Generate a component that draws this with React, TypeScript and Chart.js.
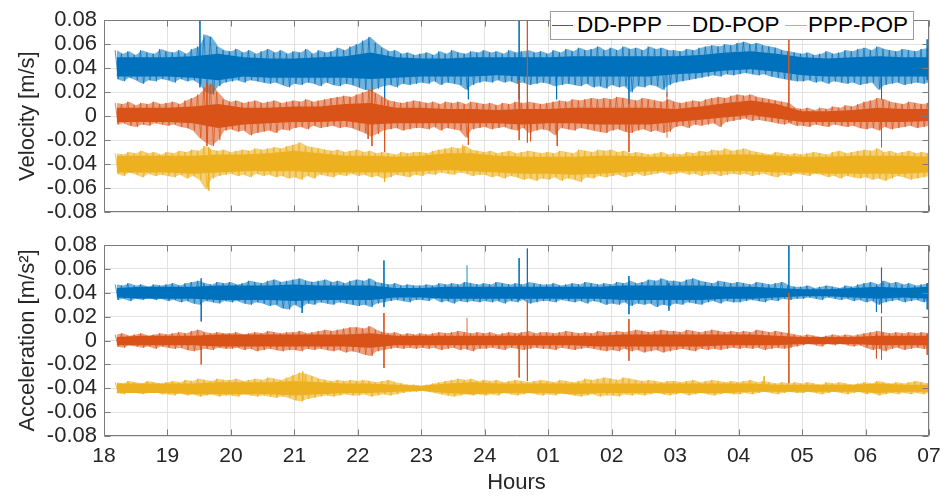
import React, { useEffect, useRef } from 'react';
import { Chart, registerables } from 'chart.js';

Chart.register(...registerables);

// ---------- axis data ----------
const HOUR_TICKS = [18, 19, 20, 21, 22, 23, 24, 25, 26, 27, 28, 29, 30, 31];
const HOUR_LABELS = ['18', '19', '20', '21', '22', '23', '24', '01', '02', '03', '04', '05', '06', '07'];
const Y_TICKS = [-0.08, -0.06, -0.04, -0.02, 0, 0.02, 0.04, 0.06, 0.08];
const Y_LABELS = ['-0.08', '-0.06', '-0.04', '-0.02', '0', '0.02', '0.04', '0.06', '0.08'];
const SERIES_NAMES = ['DD-PPP', 'DD-POP', 'PPP-POP'];

// Envelope samples (values in 1e-3 units), every 0.1 h from 18.2 to 31.0 (07:00)
const SAMPLE_START = 18.2;
const SAMPLE_STEP = 0.1;
// Dense-core samples every 0.4 h from 18.2 to 31.0
const CORE_START = 18.2;
const CORE_STEP = 0.4;

// ---------- Velocity ----------
const VEL_DDPPP_HI = [
  55, 52, 54, 51, 55, 53, 52, 56,
  54, 53, 55, 52, 56, 58, 68, 66, 58, 55,
  54, 56, 53, 55, 52, 54, 56, 53, 55, 52,
  54, 53, 56, 52, 55, 53, 54, 57, 55, 58,
  60, 63, 66, 61, 57, 54, 55, 52, 53, 51,
  52, 53, 51, 54, 52, 55, 53, 52, 54, 53,
  55, 53, 54, 52, 55, 53, 54, 55, 53, 54,
  52, 55, 53, 56, 54, 57, 55, 56, 58, 55,
  57, 55, 58, 56, 57, 55, 58, 56, 57, 55,
  55, 54, 56, 55, 57, 58, 59, 58, 60, 59,
  61, 62, 60, 61, 59, 58, 57, 55, 54, 53,
  52, 53, 51, 52, 54, 52, 53, 55, 54, 56,
  57, 55, 58, 56, 55, 54, 56, 55, 54, 56,
  57,
];
const VEL_DDPPP_LO = [
  31, 29, 32, 30, 27, 30, 29, 31,
  30, 28, 31, 29, 30, 27, 20, 18, 25, 28,
  29, 30, 28, 30, 29, 28, 27, 28, 26, 24,
  27, 26, 28, 27, 25, 28, 26, 25, 27, 26,
  24, 22, 21, 23, 25, 26, 24, 27, 26, 27,
  28, 27, 29, 26, 28, 27, 26, 22, 26, 28,
  29, 28, 30, 28, 29, 27, 28, 26, 27, 28,
  27, 25, 26, 27, 26, 25, 27, 24, 25, 23,
  26, 24, 25, 20, 25, 24, 26, 25, 22, 26,
  28, 29, 30, 31, 32, 33, 34, 33, 35, 34,
  35, 36, 35, 34, 35, 33, 32, 31, 30, 29,
  29, 30, 28, 29, 27, 29, 28, 27, 28, 26,
  27, 28, 22, 26, 27, 28, 26, 27, 28, 27,
  28,
];
const VEL_DDPPP_CORE_HI = [49, 49, 49, 50, 52, 49, 48, 48, 49, 50, 53, 49, 48, 48, 49, 49, 49, 49, 50, 50, 50, 50, 50, 51, 53, 54, 52, 49, 48, 49, 50, 49, 49];
const VEL_DDPPP_CORE_LO = [33, 33, 33, 32, 30, 33, 32, 32, 32, 32, 31, 32, 33, 33, 33, 34, 33, 33, 33, 33, 33, 33, 35, 36, 38, 39, 37, 34, 33, 33, 33, 33, 33];
// isolated spikes: [hour, top, bottom]
const VEL_DDPPP_SPIKES = [
  [19.51, 90, 24], [22.42, 45, 12], [23.74, 45, 14], [24.54, 90, 14], [25.13, 45, 14],
  [26.27, 48, 10], [26.87, 45, 16], [30.25, 50, 14], [30.97, 64, 30],
];

const VEL_DDPOP_HI = [
  11, 10, 12, 9, 11, 10, 12, 10,
  11, 12, 10, 13, 15, 18, 24, 27, 20, 14,
  12, 13, 11, 12, 13, 11, 12, 13, 11, 12,
  13, 12, 14, 12, 13, 14, 15, 16, 17, 16,
  18, 20, 22, 19, 16, 13, 12, 11, 12, 13,
  12, 11, 12, 10, 12, 11, 12, 10, 12, 11,
  10, 11, 9, 11, 10, 12, 11, 12, 11, 10,
  11, 12, 13, 12, 14, 13, 14, 15, 14, 15,
  14, 16, 15, 14, 13, 15, 14, 13, 12, 14,
  12, 11, 12, 13, 12, 14, 15, 16, 15, 17,
  18, 17, 18, 16, 15, 14, 13, 12, 11, 7,
  6, 7, 5, 7, 6, 8, 7, 9, 8, 10,
  12, 13, 15, 14, 12, 11, 10, 12, 11, 10,
  11,
];
const VEL_DDPOP_LO = [
  -7, -6, -8, -9, -7, -8, -6, -7,
  -8, -7, -9, -10, -12, -18, -22, -25, -20, -12,
  -11, -13, -12, -16, -14, -13, -12, -14, -11, -12,
  -10, -9, -11, -8, -10, -9, -8, -10, -9, -10,
  -12, -14, -17, -15, -12, -11, -10, -12, -11, -10,
  -10, -11, -9, -12, -10, -11, -12, -18, -11, -10,
  -9, -11, -10, -9, -11, -12, -10, -14, -12, -11,
  -12, -16, -10, -11, -12, -10, -11, -12, -13, -14,
  -12, -11, -13, -14, -12, -11, -13, -12, -14, -13,
  -9, -8, -10, -7, -8, -7, -6, -9, -5, -4,
  -3, -2, -4, -3, -4, -5, -6, -7, -6, -8,
  -8, -9, -7, -8, -9, -7, -8, -9, -8, -10,
  -11, -10, -12, -9, -11, -10, -9, -8, -10, -9,
  -8,
];
const VEL_DDPOP_CORE_HI = [7, 7, 7, 8, 10, 7, 7, 8, 8, 10, 11, 7, 7, 6, 6, 5, 6, 6, 7, 7, 7, 7, 6, 8, 11, 13, 10, 4, 4, 5, 7, 6, 6];
const VEL_DDPOP_CORE_LO = [-5, -5, -5, -6, -10, -7, -6, -5, -5, -4, -7, -6, -6, -6, -6, -6, -7, -6, -6, -7, -7, -7, -5, -3, -1, 1, -2, -5, -5, -5, -5, -5, -4];
const VEL_DDPOP_SPIKES = [
  [19.62, 28, -25], [22.16, 5, -19], [22.22, 24, -25], [22.42, 15, -30], [23.74, 5, -24],
  [24.54, 30, -20], [24.67, 90, -22], [24.72, 5, -21], [25.14, 5, -25], [26.27, 5, -30],
  [26.87, 20, -18], [28.79, 75, -5], [30.25, 5, -26],
];

const VEL_PPPPOP_HI = [
  -31, -32, -30, -31, -29, -31, -30, -32,
  -30, -31, -29, -30, -28, -29, -25, -28, -29, -28,
  -30, -29, -28, -29, -27, -28, -27, -26, -27, -25,
  -24, -22, -25, -26, -27, -28, -29, -28, -30, -29,
  -28, -30, -29, -31, -30, -31, -32, -30, -31, -30,
  -30, -31, -29, -28, -27, -26, -27, -25, -28, -29,
  -30, -29, -31, -30, -29, -31, -30, -29, -30, -31,
  -30, -31, -29, -30, -31, -28, -29, -30, -28, -29,
  -28, -30, -29, -31, -30, -31, -32, -31, -30, -32,
  -31, -32, -30, -31, -29, -30, -28, -29, -27, -29,
  -28, -27, -29, -30, -31, -32, -30, -31, -32, -31,
  -32, -31, -30, -31, -32, -30, -29, -31, -30, -29,
  -28, -29, -27, -30, -29, -31, -30, -29, -31, -30,
  -31,
];
const VEL_PPPPOP_LO = [
  -48, -50, -47, -49, -51, -48, -50, -49,
  -50, -51, -49, -52, -50, -53, -61, -52, -50, -49,
  -48, -50, -49, -51, -48, -50, -49, -51, -50, -52,
  -51, -53, -50, -52, -49, -50, -51, -49, -50, -48,
  -50, -49, -51, -50, -52, -51, -49, -50, -51, -49,
  -50, -48, -49, -47, -48, -49, -47, -48, -50, -49,
  -49, -51, -50, -52, -50, -51, -53, -52, -54, -52,
  -53, -51, -54, -52, -53, -55, -51, -52, -50, -51,
  -50, -49, -51, -50, -48, -50, -49, -48, -47, -49,
  -48, -47, -49, -48, -50, -49, -48, -50, -49, -48,
  -49, -48, -50, -49, -48, -50, -51, -49, -50, -48,
  -49, -50, -48, -49, -51, -50, -52, -50, -51, -52,
  -51, -53, -52, -54, -52, -50, -51, -53, -52, -51,
  -50,
];
const VEL_PPPPOP_CORE_HI = [-33, -33, -33, -33, -32, -32, -31, -29, -31, -33, -33, -34, -33, -31, -31, -33, -34, -34, -34, -33, -33, -34, -34, -33, -32, -32, -33, -34, -34, -33, -33, -33, -34];
const VEL_PPPPOP_CORE_LO = [-47, -47, -47, -48, -47, -46, -46, -46, -47, -47, -47, -47, -46, -45, -46, -47, -48, -48, -49, -48, -47, -46, -46, -46, -46, -46, -47, -47, -48, -48, -48, -48, -47];
const VEL_PPPPOP_SPIKES = [[19.65, -26, -62], [22.42, -35, -55], [23.65, -24, -44]];

// ---------- Acceleration ----------
const ACC_DDPPP_HI = [
  47, 46, 48, 46, 47, 45, 47, 46,
  47, 48, 46, 48, 49, 50, 48, 47, 49, 48,
  49, 47, 48, 50, 49, 48, 50, 51, 49, 50,
  51, 52, 50, 49, 50, 51, 49, 50, 48, 50,
  51, 50, 52, 49, 48, 47, 48, 46, 47, 46,
  46, 47, 46, 48, 47, 48, 47, 49, 48, 47,
  48, 47, 49, 48, 47, 48, 47, 49, 48, 47,
  47, 48, 46, 47, 48, 47, 49, 48, 47, 48,
  47, 49, 48, 50, 48, 49, 51, 50, 52, 50,
  50, 49, 51, 52, 50, 49, 48, 50, 49, 48,
  49, 48, 47, 49, 48, 47, 48, 49, 46, 45,
  45, 46, 44, 45, 46, 45, 44, 46, 45, 47,
  48, 49, 47, 50, 48, 49, 47, 48, 46, 47,
  48,
];
const ACC_DDPPP_LO = [
  34, 35, 33, 35, 34, 36, 34, 35,
  33, 34, 32, 33, 31, 30, 33, 32, 31, 33,
  32, 33, 31, 30, 32, 31, 29, 30, 27, 26,
  30, 27, 31, 30, 32, 31, 30, 32, 31, 30,
  29, 30, 28, 31, 32, 33, 34, 33, 32, 34,
  34, 33, 35, 32, 33, 31, 33, 32, 33, 32,
  33, 32, 33, 31, 33, 32, 34, 31, 32, 33,
  33, 32, 34, 33, 32, 33, 31, 33, 32, 30,
  31, 30, 32, 29, 31, 30, 31, 28, 30, 29,
  31, 30, 32, 31, 30, 32, 33, 31, 33, 32,
  32, 33, 34, 33, 32, 34, 33, 35, 34, 35,
  35, 36, 35, 34, 36, 35, 34, 35, 33, 34,
  32, 33, 30, 32, 33, 34, 32, 33, 34, 32,
  33,
];
const ACC_DDPPP_CORE_HI = [44, 45, 45, 45, 46, 46, 46, 47, 46, 46, 46, 44, 44, 45, 45, 45, 45, 45, 45, 45, 46, 46, 46, 46, 45, 45, 44, 43, 43, 44, 45, 44, 45];
const ACC_DDPPP_CORE_LO = [36, 35, 35, 35, 34, 34, 34, 33, 34, 34, 34, 36, 36, 35, 35, 35, 35, 35, 35, 35, 34, 34, 34, 34, 35, 35, 36, 37, 37, 36, 35, 36, 35];
const ACC_DDPPP_SPIKES = [
  [19.53, 52, 16], [21.12, 45, 23], [22.41, 67, 28], [23.72, 63, 35], [24.54, 69, 34],
  [24.67, 77, 35], [26.27, 54, 22], [26.9, 48, 25], [28.79, 90, 38], [30.17, 45, 24],
  [30.25, 61, 23], [30.97, 48, 26],
];

const ACC_DDPOP_HI = [
  5, 6, 4, 5, 6, 4, 5, 6,
  5, 6, 7, 6, 8, 9, 7, 6, 7, 6,
  6, 7, 5, 6, 7, 6, 8, 7, 6, 7,
  7, 8, 6, 7, 8, 9, 8, 9, 10, 11,
  11, 10, 12, 9, 7, 6, 7, 5, 6, 5,
  6, 5, 6, 7, 6, 7, 8, 7, 6, 7,
  6, 7, 5, 6, 7, 6, 7, 8, 6, 7,
  7, 6, 7, 8, 7, 6, 7, 6, 8, 7,
  7, 8, 7, 8, 9, 8, 7, 8, 9, 8,
  8, 7, 9, 8, 7, 8, 9, 8, 7, 8,
  7, 8, 7, 9, 8, 7, 8, 7, 6, 5,
  4, 5, 4, 3, 4, 5, 4, 5, 4, 5,
  6, 7, 8, 7, 6, 7, 6, 7, 6, 7,
  6,
];
const ACC_DDPOP_LO = [
  -5, -6, -4, -5, -6, -5, -7, -5,
  -6, -7, -6, -8, -9, -8, -7, -8, -6, -7,
  -7, -6, -8, -7, -9, -8, -7, -8, -9, -8,
  -8, -9, -7, -8, -7, -8, -9, -8, -10, -9,
  -10, -12, -13, -9, -8, -7, -6, -7, -6, -7,
  -6, -7, -6, -8, -7, -6, -8, -7, -9, -7,
  -7, -6, -7, -8, -6, -7, -8, -7, -6, -7,
  -7, -8, -6, -7, -8, -7, -6, -7, -8, -9,
  -8, -9, -7, -9, -8, -10, -9, -8, -10, -9,
  -8, -7, -8, -9, -7, -8, -7, -8, -7, -6,
  -7, -6, -7, -6, -8, -7, -6, -7, -6, -5,
  -4, -3, -4, -5, -3, -4, -3, -4, -5, -4,
  -6, -8, -7, -9, -7, -6, -8, -7, -6, -7,
  -7,
];
const ACC_DDPOP_CORE_HI = [3, 4, 4, 4, 5, 5, 5, 5, 5, 5, 6, 4, 4, 4, 4, 4, 4, 4, 4, 4, 5, 5, 5, 5, 5, 5, 4, 3, 3, 3, 4, 4, 4];
const ACC_DDPOP_CORE_LO = [-4, -4, -4, -4, -5, -5, -5, -5, -5, -5, -6, -4, -4, -4, -4, -4, -4, -4, -4, -5, -5, -5, -5, -5, -4, -4, -4, -3, -3, -3, -4, -4, -4];
const ACC_DDPOP_SPIKES = [
  [19.53, 3, -20], [22.41, 23, -23], [23.72, 19, -8], [24.54, 5, -31], [24.67, 34, -34],
  [26.27, 18, -17], [28.79, 40, -36], [30.17, 5, -15], [30.25, 20, -16], [30.97, 5, -12],
];

const ACC_PPPPOP_HI = [
  -35, -36, -34, -35, -36, -34, -35, -36,
  -35, -34, -35, -33, -34, -32, -33, -34, -32, -33,
  -33, -32, -34, -33, -32, -33, -31, -32, -33, -31,
  -29, -27, -28, -30, -32, -33, -34, -33, -34, -33,
  -34, -33, -34, -35, -34, -33, -35, -36, -37, -37,
  -38, -37, -36, -35, -34, -33, -32, -33, -32, -34,
  -33, -34, -33, -35, -34, -33, -34, -35, -34, -33,
  -34, -35, -33, -34, -35, -34, -32, -33, -32, -31,
  -32, -33, -31, -32, -33, -34, -33, -34, -35, -34,
  -34, -35, -34, -33, -35, -34, -33, -34, -35, -34,
  -35, -34, -33, -35, -34, -35, -36, -35, -36, -35,
  -36, -35, -36, -37, -35, -36, -35, -36, -37, -36,
  -35, -36, -34, -35, -36, -35, -36, -35, -34, -35,
  -36,
];
const ACC_PPPPOP_LO = [
  -44, -45, -43, -44, -45, -44, -43, -45,
  -45, -46, -44, -46, -45, -47, -46, -45, -47, -46,
  -46, -47, -45, -46, -47, -46, -47, -48, -47, -48,
  -50, -51, -49, -48, -47, -46, -47, -46, -45, -46,
  -46, -45, -47, -46, -45, -46, -45, -44, -43, -43,
  -42, -43, -44, -45, -46, -47, -46, -45, -46, -45,
  -46, -45, -46, -44, -45, -46, -45, -44, -45, -46,
  -45, -46, -44, -45, -46, -47, -46, -45, -47, -46,
  -46, -47, -45, -46, -45, -46, -45, -44, -45, -46,
  -45, -44, -46, -45, -44, -45, -46, -45, -44, -45,
  -45, -44, -45, -44, -43, -44, -45, -44, -43, -44,
  -44, -43, -44, -45, -44, -43, -44, -45, -44, -43,
  -45, -44, -46, -45, -44, -45, -44, -45, -44, -45,
  -44,
];
const ACC_PPPPOP_CORE_HI = [-36, -36, -36, -36, -35, -35, -35, -34, -35, -36, -36, -37, -38, -36, -35, -36, -36, -36, -36, -36, -36, -36, -36, -36, -36, -36, -37, -37, -37, -37, -36, -37, -37];
const ACC_PPPPOP_CORE_LO = [-44, -44, -44, -45, -45, -45, -45, -46, -45, -44, -44, -43, -42, -44, -45, -44, -44, -44, -45, -44, -44, -44, -44, -44, -44, -43, -43, -43, -43, -43, -44, -43, -43];
const ACC_PPPPOP_SPIKES = [[21.13, -26, -50], [28.4, -30, -40]];

// ---------- styling ----------
const FONT = "'Liberation Sans', Arial, Helvetica, sans-serif";
const TEXT_COLOR = '#262626';
const GRID_COLOR = '#e2e2e2';
const FRAME_COLOR = '#7a7a7a';
const SERIES_COLORS = ['#0072BD', '#D95319', '#EDB120'];
const TINT_COLORS = ['rgba(0,114,189,0.55)', 'rgba(217,83,25,0.55)', 'rgba(237,177,32,0.6)'];
const FRINGE_COLORS = ['rgba(0,114,189,0.72)', 'rgba(217,83,25,0.72)', 'rgba(237,177,32,0.8)'];
const SPIKE_COLORS = ['rgba(0,114,189,0.85)', 'rgba(217,83,25,0.85)', 'rgba(237,177,32,0.9)'];

type Pt = { x: number; y: number };

function envelopePoints(vals: number[]): Pt[] {
  return vals.map((v, i) => ({ x: SAMPLE_START + SAMPLE_STEP * i, y: v / 1000 }));
}

function zigzagPoints(hi: number[], lo: number[]): Pt[] {
  const pts: Pt[] = [];
  for (let i = 0; i < hi.length; i++) {
    const t = SAMPLE_START + SAMPLE_STEP * i;
    pts.push({ x: t - SAMPLE_STEP / 4, y: hi[i] / 1000 });
    pts.push({ x: t + SAMPLE_STEP / 4, y: lo[i] / 1000 });
  }
  return pts;
}

function spikePoints(spikes: number[][]): Pt[] {
  const pts: Pt[] = [];
  for (const [t, top, bottom] of spikes) {
    pts.push({ x: t, y: top / 1000 });
    pts.push({ x: t + 0.002, y: bottom / 1000 });
    pts.push({ x: t + 0.004, y: NaN });
  }
  return pts;
}

function corePoints(vals: number[]): Pt[] {
  return vals.map((v, k) => ({ x: CORE_START + CORE_STEP * k, y: v / 1000 }));
}

type SeriesDef = { hi: number[]; lo: number[]; coreHi: number[]; coreLo: number[]; spikes: number[][] };

const HIDDEN = 'rgba(0,0,0,0)';

function buildDatasets(series: SeriesDef[]) {
  const ds: any[] = [];
  series.forEach((s, i) => {
    const base = (3 - i) * 10;
    ds.push({ label: SERIES_NAMES[i] + ' env-lo', data: envelopePoints(s.lo), borderColor: HIDDEN, borderWidth: 1, fill: false, order: base + 6 });
    ds.push({ label: SERIES_NAMES[i] + ' env', data: envelopePoints(s.hi), borderColor: HIDDEN, backgroundColor: TINT_COLORS[i], borderWidth: 1, fill: '-1', order: base + 5 });
    ds.push({ label: SERIES_NAMES[i] + ' core-lo', data: corePoints(s.coreLo), borderColor: HIDDEN, borderWidth: 1, fill: false, order: base + 4 });
    ds.push({ label: SERIES_NAMES[i] + ' core', data: corePoints(s.coreHi), borderColor: HIDDEN, backgroundColor: SERIES_COLORS[i], borderWidth: 1, fill: '-1', order: base + 3 });
    ds.push({ label: SERIES_NAMES[i], data: zigzagPoints(s.hi, s.lo), borderColor: FRINGE_COLORS[i], borderWidth: 1, fill: false, order: base + 2 });
    ds.push({ label: SERIES_NAMES[i] + ' spikes', data: spikePoints(s.spikes), borderColor: SPIKE_COLORS[i], borderWidth: 1, fill: false, spanGaps: false, order: base + 1 });
  });
  return ds;
}

const framePlugin = {
  id: 'frame',
  afterDatasetsDraw(chart: any) {
    const { ctx, chartArea } = chart;
    const { left, top, right, bottom } = chartArea;
    const xs = chart.scales.x;
    const ys = chart.scales.y;
    const L = 6;
    ctx.save();
    ctx.strokeStyle = FRAME_COLOR;
    ctx.lineWidth = 1;
    const l = Math.round(left) + 0.5;
    const r = Math.round(right) - 0.5;
    const t = Math.round(top) + 0.5;
    const b = Math.round(bottom) - 0.5;
    ctx.beginPath();
    ctx.rect(l, t, r - l, b - t);
    HOUR_TICKS.forEach((v) => {
      const px = Math.round(xs.getPixelForValue(v)) + 0.5;
      ctx.moveTo(px, t);
      ctx.lineTo(px, t + L);
      ctx.moveTo(px, b);
      ctx.lineTo(px, b - L);
    });
    Y_TICKS.forEach((v) => {
      const py = Math.round(ys.getPixelForValue(v)) + 0.5;
      ctx.moveTo(l, py);
      ctx.lineTo(l + L, py);
      ctx.moveTo(r, py);
      ctx.lineTo(r - L, py);
    });
    ctx.stroke();
    ctx.restore();
  },
};

function makeConfig(kind: 'top' | 'bottom'): any {
  const isTop = kind === 'top';
  const series: SeriesDef[] = isTop
    ? [
        { hi: VEL_DDPPP_HI, lo: VEL_DDPPP_LO, coreHi: VEL_DDPPP_CORE_HI, coreLo: VEL_DDPPP_CORE_LO, spikes: VEL_DDPPP_SPIKES },
        { hi: VEL_DDPOP_HI, lo: VEL_DDPOP_LO, coreHi: VEL_DDPOP_CORE_HI, coreLo: VEL_DDPOP_CORE_LO, spikes: VEL_DDPOP_SPIKES },
        { hi: VEL_PPPPOP_HI, lo: VEL_PPPPOP_LO, coreHi: VEL_PPPPOP_CORE_HI, coreLo: VEL_PPPPOP_CORE_LO, spikes: VEL_PPPPOP_SPIKES },
      ]
    : [
        { hi: ACC_DDPPP_HI, lo: ACC_DDPPP_LO, coreHi: ACC_DDPPP_CORE_HI, coreLo: ACC_DDPPP_CORE_LO, spikes: ACC_DDPPP_SPIKES },
        { hi: ACC_DDPOP_HI, lo: ACC_DDPOP_LO, coreHi: ACC_DDPOP_CORE_HI, coreLo: ACC_DDPOP_CORE_LO, spikes: ACC_DDPOP_SPIKES },
        { hi: ACC_PPPPOP_HI, lo: ACC_PPPPOP_LO, coreHi: ACC_PPPPOP_CORE_HI, coreLo: ACC_PPPPOP_CORE_LO, spikes: ACC_PPPPOP_SPIKES },
      ];
  return {
    type: 'line',
    data: { datasets: buildDatasets(series) },
    options: {
      responsive: false,
      animation: false,
      devicePixelRatio: 1,
      events: [],
      layout: {
        padding: isTop
          ? { left: 0, top: 16, right: 23, bottom: 284 }
          : { left: 0, top: 245, right: 23, bottom: 0 },
      },
      elements: { point: { radius: 0 }, line: { tension: 0 } },
      plugins: { legend: { display: false }, tooltip: { enabled: false }, title: { display: false } },
      scales: {
        x: {
          type: 'linear',
          min: 18,
          max: 31,
          afterBuildTicks: (s: any) => {
            s.ticks = HOUR_TICKS.map((v) => ({ value: v }));
          },
          afterFit: (s: any) => {
            s.height = isTop ? 0 : 60;
          },
          ticks: {
            display: !isTop,
            autoSkip: false,
            maxRotation: 0,
            padding: 8,
            color: TEXT_COLOR,
            font: { family: FONT, size: 21 },
            callback: (_v: any, i: number) => HOUR_LABELS[i],
          },
          grid: { color: GRID_COLOR, drawTicks: false, lineWidth: 1 },
          border: { display: false },
          title: {
            display: !isTop,
            text: 'Hours',
            color: TEXT_COLOR,
            font: { family: FONT, size: 22 },
            padding: { top: 0, bottom: 0 },
          },
        },
        y: {
          type: 'linear',
          min: -0.08,
          max: 0.08,
          afterBuildTicks: (s: any) => {
            s.ticks = Y_TICKS.map((v) => ({ value: v }));
          },
          afterFit: (s: any) => {
            s.width = 104;
          },
          ticks: {
            autoSkip: false,
            padding: 7,
            color: TEXT_COLOR,
            font: { family: FONT, size: 22 },
            callback: (_v: any, i: number) => Y_LABELS[i],
          },
          grid: { color: GRID_COLOR, drawTicks: false, lineWidth: 1 },
          border: { display: false },
          title: {
            display: true,
            text: isTop ? 'Velocity [m/s]' : 'Acceleration [m/s\u00B2]',
            color: TEXT_COLOR,
            font: { family: FONT, size: 22 },
            padding: { top: 15, bottom: 0 },
          },
        },
      },
    },
    plugins: [framePlugin],
  };
}

const LEGEND_BOX = { left: 550, top: 11, width: 364, height: 29 };
const LEGEND_ITEMS = [
  { lineX: 552, lineW: 21, textX: 577 },
  { lineX: 667, lineW: 23, textX: 692 },
  { lineX: 785, lineW: 22, textX: 808 },
];

export default function App() {
  const topRef = useRef<HTMLCanvasElement>(null);
  const botRef = useRef<HTMLCanvasElement>(null);

  useEffect(() => {
    const c1 = new Chart(topRef.current as HTMLCanvasElement, makeConfig('top'));
    const c2 = new Chart(botRef.current as HTMLCanvasElement, makeConfig('bottom'));
    return () => {
      c1.destroy();
      c2.destroy();
    };
  }, []);

  return (
    <div style={{ position: 'absolute', left: 0, top: 0, width: 952, height: 496, background: '#fff', fontFamily: FONT }}>
      <canvas ref={topRef} width={952} height={496} style={{ position: 'absolute', left: 0, top: 0, width: 952, height: 496 }} />
      <canvas ref={botRef} width={952} height={496} style={{ position: 'absolute', left: 0, top: 0, width: 952, height: 496 }} />
      <div
        style={{
          position: 'absolute',
          left: LEGEND_BOX.left,
          top: LEGEND_BOX.top,
          width: LEGEND_BOX.width,
          height: LEGEND_BOX.height,
          boxSizing: 'border-box',
          border: '1px solid #9c9c9c',
          background: '#fff',
        }}
      />
      {LEGEND_ITEMS.map((it, i) => (
        <React.Fragment key={SERIES_NAMES[i]}>
          <div
            style={{
              position: 'absolute',
              left: it.lineX,
              top: 25,
              width: it.lineW,
              height: 1,
              background: SERIES_COLORS[i],
            }}
          />
          <span
            style={{
              position: 'absolute',
              left: it.textX,
              top: 14,
              fontSize: '22.5px',
              lineHeight: '22.5px',
              color: '#000',
              whiteSpace: 'nowrap',
              fontFamily: FONT,
            }}
          >
            {SERIES_NAMES[i]}
          </span>
        </React.Fragment>
      ))}
    </div>
  );
}
